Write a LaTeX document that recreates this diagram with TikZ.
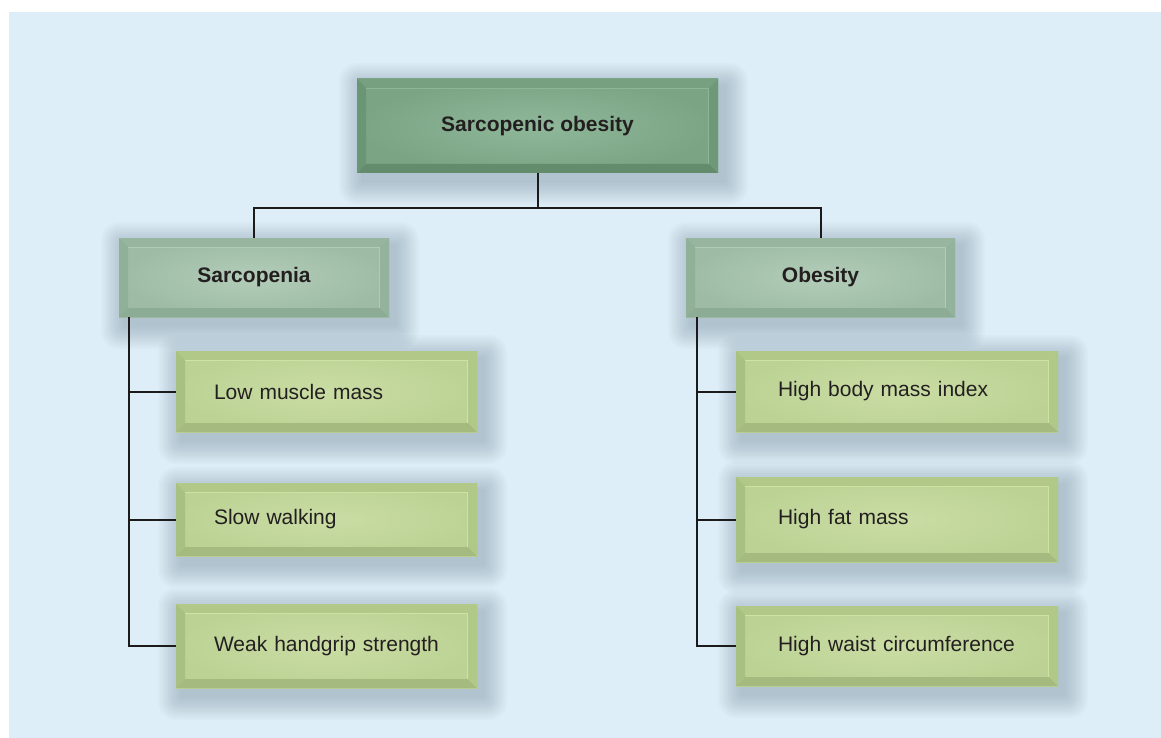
\documentclass[tikz,border=0pt]{standalone}
\usepackage{fontspec}
\setmainfont{Liberation Sans}
\usetikzlibrary{backgrounds}

\definecolor{bgblue}{HTML}{DDEEF8}
\definecolor{shadowc}{HTML}{3D5566}
\definecolor{linec}{HTML}{1C1A1B}
\definecolor{textc}{HTML}{231F20}
% top box
\definecolor{rootin}{HTML}{8FB799}
\definecolor{rootout}{HTML}{7BA485}
\definecolor{rootT}{HTML}{77A081}
\definecolor{rootL}{HTML}{6B9675}
\definecolor{rootB}{HTML}{628C6C}
\definecolor{rootR}{HTML}{6E9878}
\definecolor{rootH}{HTML}{8DB596}
% second level
\definecolor{midin}{HTML}{B2CCB8}
\definecolor{midout}{HTML}{9EBCA5}
\definecolor{midT}{HTML}{98B69F}
\definecolor{midL}{HTML}{90B098}
\definecolor{midB}{HTML}{8DAC95}
\definecolor{midR}{HTML}{94B39C}
\definecolor{midH}{HTML}{AFCAB5}
% leaves
\definecolor{leafin}{HTML}{CADDA4}
\definecolor{leafout}{HTML}{BCD294}
\definecolor{leafT}{HTML}{B1C889}
\definecolor{leafL}{HTML}{A8C082}
\definecolor{leafB}{HTML}{A4BA7F}
\definecolor{leafR}{HTML}{B0C888}
\definecolor{leafH}{HTML}{CFE2A6}

\begin{document}
\begin{tikzpicture}[x=1pt, y=-1pt]
\tikzset{ link/.style={draw=linec, line width=2pt},
  box/.style={rectangle, inner sep=0pt, outer sep=0pt, text=textc,
    font=\fontsize{21}{25}\selectfont},
  bevel/.style n args={5}{path picture={
    \path (path picture bounding box.north west) coordinate (a)
          (path picture bounding box.north east) coordinate (b)
          (path picture bounding box.south east) coordinate (c)
          (path picture bounding box.south west) coordinate (d);
    \fill [#1] (a) -- (b) -- ([shift={(-9pt,-9pt)}]b) -- ([shift={(9pt,-9pt)}]a) -- cycle;
    \fill [#2] (a) -- ([shift={(9pt,-9pt)}]a) -- ([shift={(9pt,9pt)}]d) -- (d) -- cycle;
    \fill [#3] (d) -- ([shift={(9pt,9pt)}]d) -- ([shift={(-9pt,9pt)}]c) -- (c) -- cycle;
    \fill [#4] (b) -- (c) -- ([shift={(-9pt,9pt)}]c) -- ([shift={(-9pt,-9pt)}]b) -- cycle;
    \draw [#5, line width=1pt] ([shift={(9pt,-9.5pt)}]a) -- ([shift={(-9.5pt,-9.5pt)}]b)
                               -- ([shift={(-9.5pt,9pt)}]c);
  }},
  rootbox/.style={box, font=\bfseries\fontsize{21}{25}\selectfont,
    inner color=rootin, outer color=rootout,
    bevel={rootT}{rootL}{rootB}{rootR}{rootH}},
  midbox/.style={box, font=\bfseries\fontsize{21}{25}\selectfont,
    inner color=midin, outer color=midout,
    bevel={midT}{midL}{midB}{midR}{midH}, minimum height=79pt},
  leafbox/.style={box, align=left,
    inner color=leafin, outer color=leafout,
    bevel={leafT}{leafL}{leafB}{leafR}{leafH}},
  leftleaf/.style={leafbox, inner xsep=38pt, text width=225pt},
  rightleaf/.style={leafbox, inner xsep=42pt, text width=238pt},
}

\useasboundingbox (0,0) rectangle (1161,738);

\node [rootbox, minimum width=361pt, minimum height=94pt] (top) at (537.5,126) {Sarcopenic obesity};

\node [midbox, minimum width=270pt] (sarc) at (254,277.5) {Sarcopenia};
\node [midbox, minimum width=269pt] (obes) at (820.5,277.5) {Obesity};

\node [leftleaf, minimum height=81pt] (lmm)  at (326.5,391.5) {Low muscle mass};
\node [leftleaf, minimum height=73pt] (slow) at (326.5,519.5) {Slow walking};
\node [leftleaf, minimum height=84pt] (weak) at (326.5,646)   {Weak handgrip strength};

\node [rightleaf, minimum height=81pt] (bmi)   at (897,391.5) {High body mass index};
\node [rightleaf, minimum height=85pt] (fat)   at (897,519.5) {High fat mass};
\node [rightleaf, minimum height=80pt] (waist) at (897,646)   {High waist circumference};

% connectors
\coordinate (fork) at (537.5,208);
\coordinate (trunkL) at ([xshift=10pt]sarc.south west);
\coordinate (trunkR) at ([xshift=11pt]obes.south west);

\draw [link] (top.south) -- (fork);
\draw [link] (sarc.north) |- (fork) -| (obes.north);

\draw [link] (trunkL) |- (weak.west);
\draw [link] (lmm.west)  -- (lmm.west -| trunkL);
\draw [link] (slow.west) -- (slow.west -| trunkL);

\draw [link] (trunkR) |- (waist.west);
\draw [link] (bmi.west) -- (bmi.west -| trunkR);
\draw [link] (fat.west) -- (fat.west -| trunkR);

% panel and soft shadows
\begin{scope}[on background layer]
\fill [white] (0,0) rectangle (1161,738);
\fill [bgblue] (9,12) rectangle (1161,738);
\foreach \n in {top,sarc,obes,lmm,slow,weak,bmi,fat,waist}
  \foreach \i in {1,...,12}
    \fill [shadowc, opacity=0.022, rounded corners={1.5*\i pt}]
      ([shift={({6-2*\i},{8-2*\i})}]\n.north west) rectangle
      ([shift={({6+2*\i},{8+2*\i})}]\n.south east);
\end{scope}

\end{tikzpicture}
\end{document}
